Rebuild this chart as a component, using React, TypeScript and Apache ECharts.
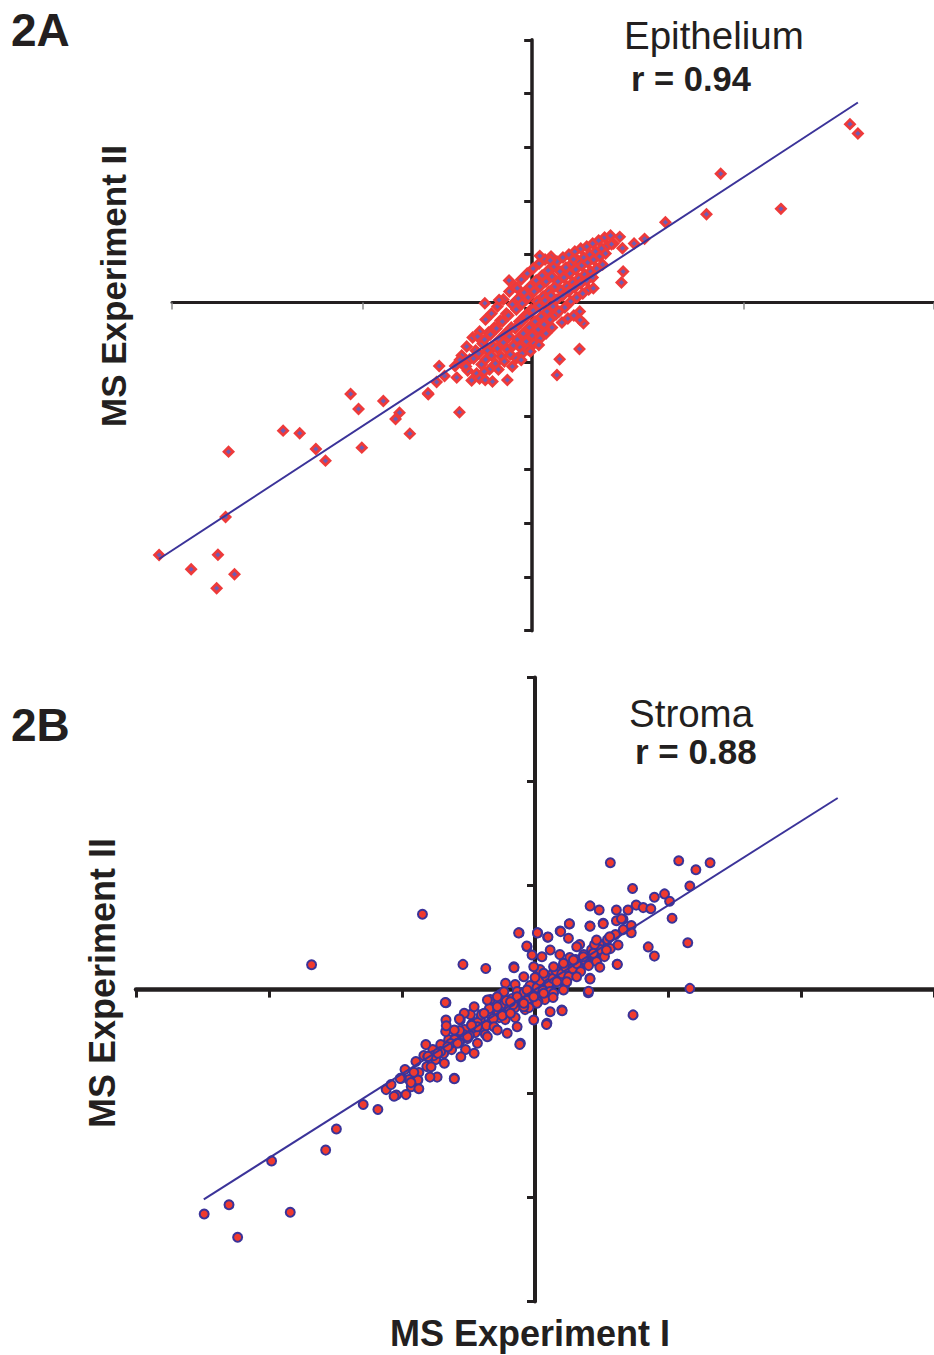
import React, { useEffect, useRef } from "react";
import * as echarts from "echarts";

// Panel 2A – Epithelium (log-ratio units)
const epithCluster: number[][] = [
  [-0.71, -0.53], [-0.69, -0.63], [-0.66, -0.44], [-0.63, -0.57], [-0.65, -0.68],
  [-0.60, -0.35], [-0.57, -0.48], [-0.59, -0.56], [-0.56, -0.71], [-0.61, -0.78],
  [-0.53, -0.29], [-0.50, -0.41], [-0.54, -0.51], [-0.51, -0.62], [-0.53, -0.76],
  [-0.47, -0.17], [-0.44, -0.30], [-0.48, -0.37], [-0.45, -0.48], [-0.47, -0.57], [-0.43, -0.67],
  [-0.41, -0.11], [-0.38, -0.25], [-0.42, -0.32], [-0.39, -0.44], [-0.41, -0.53], [-0.37, -0.61], [-0.40, -0.79],
  [-0.35, -0.04], [-0.32, -0.18], [-0.36, -0.26], [-0.33, -0.37], [-0.35, -0.46], [-0.31, -0.54], [-0.34, -0.67],
  [-0.29, 0.03], [-0.26, -0.11], [-0.30, -0.19], [-0.27, -0.31], [-0.29, -0.40], [-0.25, -0.47], [-0.28, -0.59],
  [-0.23, 0.11], [-0.20, -0.02], [-0.24, -0.13], [-0.21, -0.25], [-0.23, -0.34], [-0.19, -0.43], [-0.22, -0.52], [-0.20, -0.64],
  [-0.17, 0.16], [-0.14, 0.04], [-0.16, -0.07], [-0.13, -0.19], [-0.17, -0.26], [-0.15, -0.37], [-0.12, -0.45], [-0.16, -0.56],
  [-0.11, 0.23], [-0.08, 0.10], [-0.10, -0.01], [-0.07, -0.13], [-0.11, -0.20], [-0.09, -0.31], [-0.06, -0.39], [-0.10, -0.51],
  [-0.05, 0.29], [-0.02, 0.16], [-0.04, 0.05], [-0.01, -0.07], [-0.05, -0.14], [-0.03, -0.25], [0.00, -0.33], [-0.04, -0.47],
  [0.01, 0.34], [0.04, 0.22], [0.02, 0.11], [0.05, 0.01], [0.01, -0.08], [0.03, -0.19], [0.06, -0.27], [0.02, -0.41],
  [0.07, 0.39], [0.10, 0.27], [0.08, 0.16], [0.11, 0.06], [0.07, -0.03], [0.09, -0.14], [0.12, -0.22], [0.08, -0.36],
  [0.13, 0.43], [0.16, 0.32], [0.14, 0.21], [0.17, 0.11], [0.13, 0.02], [0.15, -0.09], [0.18, -0.17], [0.14, -0.31],
  [0.19, 0.46], [0.22, 0.36], [0.20, 0.26], [0.23, 0.16], [0.19, 0.07], [0.21, -0.04], [0.24, -0.12], [0.20, -0.25],
  [0.25, 0.41], [0.28, 0.31], [0.26, 0.21], [0.29, 0.12], [0.25, 0.03], [0.27, -0.09], [0.30, -0.20],
  [0.31, 0.45], [0.34, 0.35], [0.32, 0.25], [0.35, 0.16], [0.31, 0.07], [0.33, -0.05], [0.36, -0.16],
  [0.37, 0.48], [0.40, 0.39], [0.38, 0.29], [0.41, 0.20], [0.37, 0.11], [0.39, 0.01], [0.42, -0.13],
  [0.43, 0.51], [0.46, 0.42], [0.44, 0.33], [0.47, 0.24], [0.43, 0.15], [0.45, 0.05], [0.48, -0.09],
  [0.49, 0.54], [0.52, 0.45], [0.50, 0.37], [0.53, 0.28], [0.49, 0.19], [0.51, 0.09],
  [0.55, 0.56], [0.58, 0.48], [0.56, 0.40], [0.59, 0.31], [0.55, 0.22], [0.57, 0.13],
  [0.61, 0.59], [0.64, 0.51], [0.62, 0.43], [0.65, 0.34], [0.61, 0.25],
  [0.67, 0.62], [0.70, 0.54], [0.68, 0.46], [0.71, 0.38],
  [0.73, 0.65], [0.76, 0.57], [0.74, 0.49],
  [0.79, 0.67], [0.82, 0.59],
];

const epithOutliers: number[][] = [
  [-3.76, -2.524], [-3.437, -2.667], [-3.167, -2.521], [-3.18, -2.857], [-3.0, -2.717],
  [-3.09, -2.144], [-3.06, -1.491], [-2.51, -1.281], [-2.343, -1.307], [-2.18, -1.464],
  [-2.083, -1.581], [-1.83, -0.914], [-1.75, -1.064], [-1.717, -1.451], [-1.5, -0.984],
  [-1.337, -1.101], [-1.377, -1.164], [-1.233, -1.311], [-1.047, -0.917], [-0.963, -0.794],
  [-0.937, -0.634], [-0.883, -0.734], [-0.76, -0.751], [-0.733, -1.097], [-0.777, -0.634],
  [-0.73, -0.574], [-0.667, -0.641], [3.203, 1.783], [3.283, 1.689], [1.9, 1.286],
  [2.507, 0.936], [1.757, 0.883], [1.343, 0.803], [1.133, 0.636], [1.027, 0.589],
  [0.883, 0.656], [0.8, 0.583], [0.91, 0.543], [0.077, 0.466], [0.183, 0.419],
  [0.417, 0.433], [0.917, 0.309], [0.9, 0.199], [-0.233, 0.219], [-0.15, 0.143],
  [-0.477, -0.007], [-0.333, 0.026], [-1.05, -0.907], [-0.55, -0.341], [-0.483, -0.691],
  [-0.473, -0.774], [-0.25, -0.774], [-0.11, -0.574], [-0.017, -0.491], [0.067, -0.424],
  [0.277, -0.567], [0.25, -0.724], [0.477, -0.464], [0.517, -0.207], [0.617, 0.143],
  [0.483, -0.174],
];

const epithFit: number[][] = [[-3.76, -2.564], [3.283, 1.999]];

// Panel 2B – Stroma
const stromaCore: number[][] = [
  [-1.31, -0.80], [-1.27, -0.90], [-1.20, -0.72], [-1.17, -0.83], [-1.12, -0.66], [-1.09, -0.77],
  [-1.03, -0.60], [-1.00, -0.70], [-0.95, -0.55], [-0.92, -0.64], [-0.87, -0.50], [-0.84, -0.60],
  [-0.79, -0.44], [-0.76, -0.53], [-0.71, -0.40], [-0.68, -0.49], [-0.63, -0.34], [-0.60, -0.43],
  [-0.55, -0.30], [-0.52, -0.38], [-0.47, -0.24], [-0.44, -0.33], [-0.39, -0.19], [-0.36, -0.28],
  [-0.31, -0.14], [-0.28, -0.23], [-0.23, -0.09], [-0.20, -0.18], [-0.15, -0.04], [-0.12, -0.13],
  [-0.07, 0.01], [-0.04, -0.08], [0.01, 0.06], [0.04, -0.03], [0.09, 0.10], [0.12, 0.02],
  [0.17, 0.15], [0.20, 0.07], [0.25, 0.20], [0.28, 0.12], [0.33, 0.25], [0.36, 0.17],
  [0.41, 0.30], [0.44, 0.22], [0.49, 0.35], [0.52, 0.26], [0.57, 0.40], [0.60, 0.31],
  [0.65, 0.45], [0.68, 0.36], [0.73, 0.50], [0.76, 0.41], [0.81, 0.55], [0.89, 0.60],
  [0.97, 0.64], [-0.30, -0.30], [-0.10, -0.20], [0.10, -0.10], [0.30, 0.05], [-0.50, -0.45],
  [-0.70, -0.60], [0.05, 0.20], [-0.20, 0.05], [0.25, 0.35], [0.45, 0.45], [-0.45, -0.10],
  [-0.65, -0.25], [-0.90, -0.42], [-1.10, -0.55],
  [-0.58, -0.33], [-0.54, -0.25], [-0.49, -0.36], [-0.46, -0.19], [-0.42, -0.29], [-0.37, -0.22],
  [-0.33, -0.26], [-0.29, -0.11], [-0.26, -0.19], [-0.22, -0.15], [-0.18, -0.02], [-0.14, -0.10],
  [-0.11, -0.03], [-0.08, -0.11], [-0.05, 0.04], [-0.02, -0.04], [0.02, 0.02], [0.05, 0.09],
  [0.08, -0.01], [0.11, 0.13], [0.14, 0.06], [0.18, 0.11], [0.21, 0.19], [0.24, 0.09],
  [0.27, 0.16], [0.31, 0.22], [0.34, 0.13], [0.38, 0.21], [0.42, 0.26], [0.46, 0.18],
  [0.50, 0.30], [0.54, 0.24], [0.58, 0.35], [0.62, 0.28], [0.66, 0.40], [0.70, 0.33],
  [-0.62, -0.38], [-0.66, -0.46], [-0.72, -0.45], [-0.76, -0.41], [-0.81, -0.50], [-0.85, -0.54],
  [-0.95, -0.62], [-1.02, -0.66], [0.00, 0.12], [0.03, -0.12], [-0.06, -0.18], [0.15, -0.02],
  [0.35, 0.32], [0.60, 0.45], [-0.35, -0.05], [-0.20, -0.28],
];

const stromaSpread: number[][] = [
  [-0.16, 0.569], [0.027, 0.569], [0.127, 0.523], [0.253, 0.586], [0.347, 0.656], [0.553, 0.636],
  [0.687, 0.663], [0.82, 0.796], [0.887, 0.703], [0.97, 0.569], [0.837, 0.446], [0.72, 0.396],
  [0.653, 0.223], [0.553, 0.113], [0.537, -0.031], [0.827, 0.253], [0.42, 0.429], [0.337, 0.513],
  [0.153, 0.396], [0.07, 0.329], [-0.03, 0.346], [-0.08, 0.429], [-0.213, 0.229], [-0.297, 0.063],
  [-0.113, 0.129], [-0.013, 0.229], [0.087, 0.163], [0.187, 0.229], [0.287, 0.263], [0.387, 0.296],
  [0.487, 0.329], [0.587, 0.363], [0.62, 0.496], [0.753, 0.529], [0.22, 0.079], [0.32, 0.079],
  [0.42, 0.129],
  [-0.897, -0.131], [-0.897, -0.304], [-0.753, -0.304], [-0.64, -0.354], [-0.513, -0.237], [-0.413, -0.371],
  [-0.28, -0.437], [-0.18, -0.371], [-0.147, -0.537], [-0.013, -0.304], [0.12, -0.337], [0.153, -0.221],
  [0.27, -0.204], [0.02, -0.137], [-0.113, -0.171], [-0.247, -0.237], [-0.38, -0.171], [-0.48, -0.104],
  [-0.613, -0.171], [-0.713, -0.237], [-0.813, -0.404], [-0.68, -0.471], [-0.78, -0.537], [-0.88, -0.571],
  [-0.98, -0.637], [-1.08, -0.671], [-1.047, -0.771], [-1.18, -0.904], [-1.347, -0.887], [-1.247, -0.971],
  [-1.397, -1.054], [-0.813, -0.887], [-0.613, -0.637], [-0.58, -0.537], [-0.913, -0.737], [-0.747, -0.671],
  [-0.48, -0.471], [-0.38, -0.404], [-0.58, -0.371],
  [-0.313, -0.021], [-0.18, -0.071], [-0.08, -0.004], [0.087, -0.037], [0.187, -0.037], [0.287, -0.004],
  [-0.013, -0.071], [-0.113, -0.137], [-0.247, -0.121], [-0.38, -0.071],
];

const stromaOutliers: number[][] = [
  [-3.333, -2.244], [-3.083, -2.152], [-2.996, -2.476], [-2.466, -2.227], [-2.654, -1.713],
  [-2.109, -1.605], [-2.001, -1.394], [-1.731, -1.149], [-1.583, -1.199], [-2.251, 0.248],
  [-1.134, 0.754], [-0.726, 0.252], [-0.496, 0.211], [0.759, 1.268], [1.448, 1.289],
  [1.621, 1.198], [1.764, 1.268], [1.56, 1.036], [0.983, 1.011], [1.203, 0.924],
  [1.305, 0.957], [1.356, 0.883], [1.381, 0.713], [1.539, 0.468], [1.56, 0.012],
  [0.988, -0.253], [1.141, 0.427], [1.203, 0.335], [0.555, 0.837], [0.647, 0.796],
  [0.937, 0.796], [1.019, 0.845], [1.09, 0.82], [1.167, 0.808], [0.83, 0.252],
  [0.555, 0.107], [0.54, -0.017], [-0.165, 0.567], [0.024, 0.567], [0.131, 0.526],
  [0.259, 0.58], [0.346, 0.659], [0.555, 0.634], [0.687, 0.659], [0.82, 0.688],
  [0.871, 0.708], [-0.083, 0.435], [-0.211, 0.219], [-0.904, -0.129], [-0.894, -0.361],
  [-0.762, -0.295], [-0.639, -0.357], [-0.813, -0.892], [-0.154, -0.548], [0.116, -0.349],
  [0.274, -0.212], [0.182, -0.079], [-1.221, -0.826], [-1.17, -0.991], [-1.359, -0.888],
  [-1.42, -1.066], [-0.986, -0.875], [-1.058, -0.875], [-1.078, -0.668],
  [-1.50, -1.00], [-1.45, -0.95], [-1.30, -1.05], [-1.25, -0.93],
];

const stromaFit: number[][] = [[-3.337, -2.097], [3.05, 1.916]];

const FONT = "'Liberation Sans', Arial, Helvetica, sans-serif";
const INK = "#231f20";

export default function App() {
  const ref = useRef<HTMLDivElement>(null);
  useEffect(() => {
    document.body.style.margin = "0";
    const chart = echarts.init(ref.current!, null, { renderer: "svg" });
    const hidden = { show: false };
    const option: any = {
      animation: false,
      backgroundColor: "#ffffff",
      grid: [
        { left: 172, top: 39.8, width: 768, height: 590.9 },
        { left: 136, top: 677.6, width: 804, height: 624 },
        // overlay with the same scale as panel A, extended to the left for the trend line
        { left: 159, top: 39.8, width: 781, height: 590.9 },
      ],
      xAxis: [
        {
          gridIndex: 0, type: "value", min: -3.63, max: 4.05, interval: 1.92,
          axisLine: { show: true, onZero: true, lineStyle: { color: INK, width: 3 } },
          axisTick: { show: true, length: 7, lineStyle: { color: "#8a8a8a", width: 1.5 } },
          axisLabel: hidden, splitLine: hidden,
        },
        {
          gridIndex: 1, type: "value", min: -4.02, max: 4.02, interval: 1.34,
          axisLine: { show: true, onZero: true, lineStyle: { color: INK, width: 4.5 } },
          axisTick: { show: true, length: 8, lineStyle: { color: INK, width: 3 } },
          axisLabel: hidden, splitLine: hidden,
        },
        {
          gridIndex: 2, type: "value", min: -3.76, max: 4.05, show: false,
        },
      ],
      yAxis: [
        {
          gridIndex: 0, type: "value", min: -3.281, max: 2.626, interval: 0.537,
          axisLine: { show: true, onZero: true, lineStyle: { color: INK, width: 3.5 } },
          axisTick: { show: true, length: 8, lineStyle: { color: INK, width: 3 } },
          axisLabel: hidden, splitLine: hidden,
        },
        {
          gridIndex: 1, type: "value", min: -3.12, max: 3.12, interval: 1.04,
          axisLine: { show: true, onZero: true, lineStyle: { color: INK, width: 4 } },
          axisTick: { show: true, length: 8, lineStyle: { color: INK, width: 3 } },
          axisLabel: hidden, splitLine: hidden,
        },
        {
          gridIndex: 2, type: "value", min: -3.281, max: 2.626, show: false,
        },
      ],
      series: [
        {
          type: "scatter", xAxisIndex: 0, yAxisIndex: 0, clip: false, z: 3,
          symbol: "diamond", symbolSize: 9,
          itemStyle: { color: "#6c5cb4", borderColor: "#ee3a3a", borderWidth: 2.8, opacity: 1 },
          data: [...epithCluster, ...epithOutliers],
        },
        {
          type: "line", xAxisIndex: 2, yAxisIndex: 2, clip: false, z: 4,
          symbol: "none", showSymbol: false,
          lineStyle: { color: "#3b3399", width: 2 },
          data: epithFit,
        },
        {
          type: "scatter", xAxisIndex: 1, yAxisIndex: 1, clip: false, z: 3,
          symbol: "circle", symbolSize: 9,
          itemStyle: { color: "#f03a2e", borderColor: "#3b3399", borderWidth: 2, opacity: 1 },
          data: [...stromaCore, ...stromaSpread, ...stromaOutliers],
        },
        {
          type: "line", xAxisIndex: 1, yAxisIndex: 1, clip: false, z: 4,
          symbol: "none", showSymbol: false,
          lineStyle: { color: "#3b3399", width: 2 },
          data: stromaFit,
        },
      ],
      graphic: [
        { type: "text", x: 11, y: 29.5, style: { text: "2A", fontFamily: FONT, fontSize: 46, fontWeight: "bold", fill: INK, textAlign: "left", textVerticalAlign: "middle" } },
        { type: "text", x: 11, y: 724.5, style: { text: "2B", fontFamily: FONT, fontSize: 46, fontWeight: "bold", fill: INK, textAlign: "left", textVerticalAlign: "middle" } },
        { type: "text", x: 624, y: 35, style: { text: "Epithelium", fontFamily: FONT, fontSize: 38.5, fill: INK, textAlign: "left", textVerticalAlign: "middle" } },
        { type: "text", x: 631, y: 79, style: { text: "r = 0.94", fontFamily: FONT, fontSize: 34.5, fontWeight: "bold", fill: INK, textAlign: "left", textVerticalAlign: "middle" } },
        { type: "text", x: 629, y: 713.5, style: { text: "Stroma", fontFamily: FONT, fontSize: 38.5, fill: INK, textAlign: "left", textVerticalAlign: "middle" } },
        { type: "text", x: 635, y: 751, style: { text: "r = 0.88", fontFamily: FONT, fontSize: 35, fontWeight: "bold", fill: INK, textAlign: "left", textVerticalAlign: "middle" } },
        { type: "text", x: 113, y: 286, rotation: Math.PI / 2, style: { text: "MS Experiment II", fontFamily: FONT, fontSize: 35, fontWeight: "bold", fill: INK, textAlign: "center", textVerticalAlign: "middle" } },
        { type: "text", x: 102, y: 983, rotation: Math.PI / 2, style: { text: "MS Experiment II", fontFamily: FONT, fontSize: 36, fontWeight: "bold", fill: INK, textAlign: "center", textVerticalAlign: "middle" } },
        { type: "text", x: 530, y: 1333.4, style: { text: "MS Experiment I", fontFamily: FONT, fontSize: 36, fontWeight: "bold", fill: INK, textAlign: "center", textVerticalAlign: "middle" } },
      ],
    };
    chart.setOption(option);
    return () => chart.dispose();
  }, []);
  return <div ref={ref} style={{ width: 934, height: 1355 }} />;
}
